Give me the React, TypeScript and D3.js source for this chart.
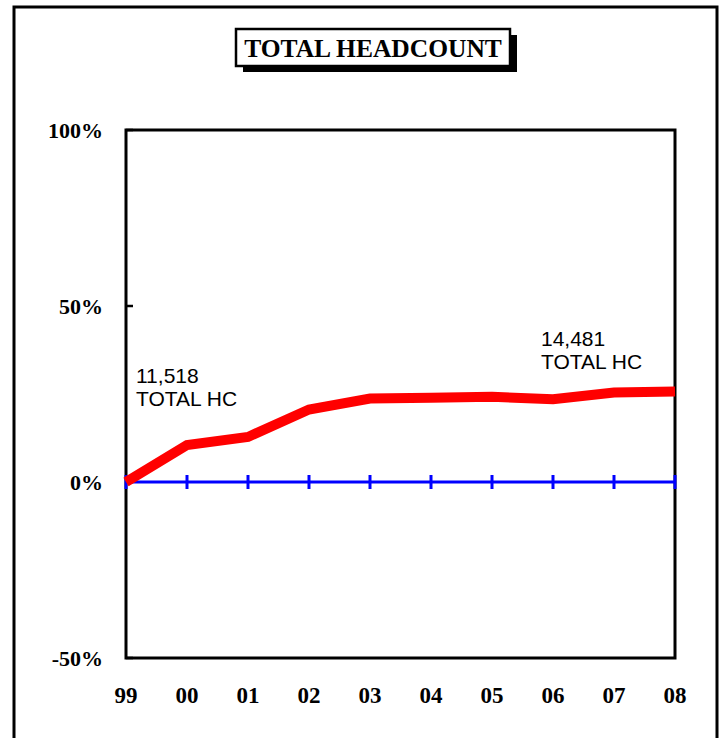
import React from 'react';
import * as d3 from 'd3';

const years = ['99', '00', '01', '02', '03', '04', '05', '06', '07', '08'];
const growth = [0, 10.5, 12.8, 20.6, 23.7, 23.9, 24.2, 23.5, 25.4, 25.7];
const yTicks = [100, 50, 0, -50];
const notes = [
  { year: '99', lines: ['11,518', 'TOTAL HC'] },
  { year: '07', lines: ['14,481', 'TOTAL HC'] },
];

const W = 722;
const H = 738;
const dms = { left: 126, right: 675, top: 130, bottom: 658 };

const serif = '"Liberation Serif", "Times New Roman", serif';
const sans = '"Liberation Sans", Arial, sans-serif';

const App = () => {
  const x = d3.scalePoint<string>()
    .domain(years)
    .range([dms.left, dms.right]);

  const y = d3.scaleLinear()
    .domain([-50, 100])
    .range([dms.bottom, dms.top]);

  const line = d3.line<number>()
    .x((_, i) => x(years[i]) as number)
    .y((d) => y(d));

  const noteOffset: Record<string, [number, number]> = {
    '99': [10, 383],
    '07': [-73, 346],
  };

  return (
    <div style={{ position: 'absolute', left: 0, top: 0 }}>
      <svg width={W} height={H} style={{ display: 'block' }}>
        <rect width={W} height={H} fill="#fff" />
        {/* outer frame, runs off the bottom */}
        <path d={`M14,${H + 5} V7 H717 V${H + 5}`} fill="none" stroke="#000" strokeWidth={3} />

        {/* title box with drop shadow */}
        <rect x={243} y={35} width={274} height={37} fill="#000" />
        <rect x={236} y={29} width={274} height={37} fill="#fff" stroke="#000" strokeWidth={2.5} />
        <text
          x={373}
          y={57}
          textAnchor="middle"
          fontFamily={serif}
          fontWeight="bold"
          fontSize={25.5}
        >
          TOTAL HEADCOUNT
        </text>

        {/* plot frame */}
        <rect
          x={dms.left}
          y={dms.top}
          width={dms.right - dms.left}
          height={dms.bottom - dms.top}
          fill="none"
          stroke="#000"
          strokeWidth={3}
        />

        {/* y axis */}
        {yTicks.map((t) => (
          <g key={t}>
            <line x1={dms.left} x2={dms.left + 7} y1={y(t)} y2={y(t)} stroke="#000" strokeWidth={2.5} />
            <text
              x={103}
              y={y(t)}
              dy="0.35em"
              textAnchor="end"
              fontFamily={serif}
              fontWeight="bold"
              fontSize={22}
            >
              {`${t}%`}
            </text>
          </g>
        ))}

        {/* zero line with category ticks */}
        <line x1={dms.left} x2={dms.right} y1={y(0)} y2={y(0)} stroke="#0000ff" strokeWidth={3} />
        {years.map((yr) => (
          <line
            key={yr}
            x1={x(yr)}
            x2={x(yr)}
            y1={y(0) - 7}
            y2={y(0) + 7}
            stroke="#0000ff"
            strokeWidth={3}
          />
        ))}

        {/* growth line */}
        <path d={line(growth) as string} fill="none" stroke="#ff0000" strokeWidth={10} />

        {/* x labels */}
        {years.map((yr) => (
          <text
            key={yr}
            x={x(yr)}
            y={695}
            dy="0.35em"
            textAnchor="middle"
            fontFamily={serif}
            fontWeight="bold"
            fontSize={23}
          >
            {yr}
          </text>
        ))}

        {/* annotations */}
        {notes.map((n) => {
          const [dx, by] = noteOffset[n.year];
          return (
            <text key={n.year} fontFamily={sans} fontSize={21} fill="#000">
              {n.lines.map((l, i) => (
                <tspan key={l} x={(x(n.year) as number) + dx} y={by + i * 22.5}>{l}</tspan>
              ))}
            </text>
          );
        })}
      </svg>
    </div>
  );
};

export default App;
